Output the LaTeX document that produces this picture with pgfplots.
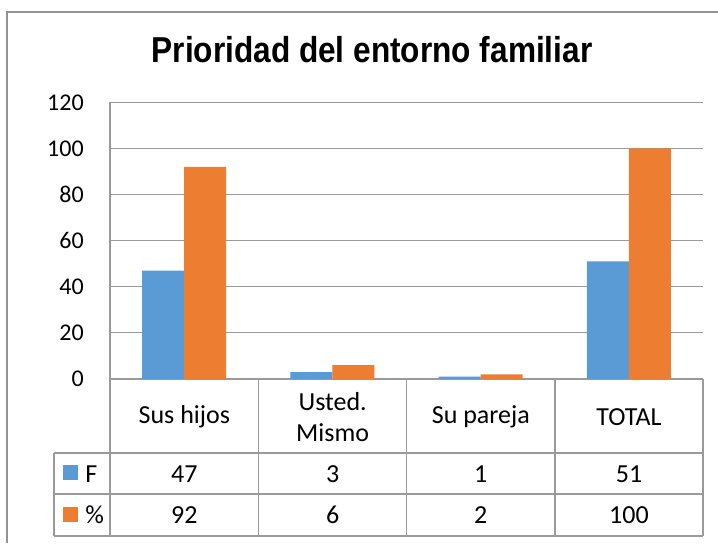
\documentclass[border=0pt]{standalone}
\usepackage{fontspec}
\setmainfont{Carlito}
\newfontfamily\titlefont{Liberation Sans}
\usepackage{pgfplots}
\pgfplotsset{compat=1.18}
\definecolor{cblue}{HTML}{5B9BD5}
\definecolor{corange}{HTML}{ED7D31}
\definecolor{gridc}{HTML}{9A9A9A}
\begin{document}
\begin{tikzpicture}
\path[use as bounding box] (-82.5pt,284.25pt) rectangle (456pt,-123pt);
\begin{axis}[
  at={(0,0)}, anchor=south west,
  scale only axis, width=444.75pt, height=207.5pt,
  xmin=-0.5, xmax=3.5, ymin=0, ymax=120,
  ytick={0,20,...,120}, xtick=\empty,
  ymajorgrids, grid style={gridc, line width=0.9pt},
  axis x line*=bottom, axis y line*=left,
  axis line style={gridc, line width=0.9pt},
  major tick length=0pt,
  ybar=0pt, bar width=31.5pt,
  tick label style={font=\fontsize{18}{21}\selectfont},
  /pgf/number format/assume math mode=true,
  yticklabel style={inner sep=0pt, xshift=-19.5pt},
  clip=false,
]
\addplot[fill=cblue, draw=none] coordinates {(0,47) (1,3) (2,1) (3,51)};
\addplot[fill=corange, draw=none] coordinates {(0,92) (1,6) (2,2) (3,100)};
\end{axis}
\begin{scope}[x=0.75pt,y=-0.75pt,shift={(-110,-379)}]
  \draw[gray!85, line width=0.9pt] (7,543) -- (7,12) -- (718,12);
  \node[font=\titlefont\fontsize{23.7}{28}\selectfont\bfseries] at (372,50) {\scalebox{1}[1.14]{Prioridad del entorno familiar}};
  \draw[gridc, line width=0.9pt] (54,453) -- (703,453) (54,494) -- (703,494) (54,536) -- (703,536) (54,453) -- (54,536);
  \foreach \x in {110,258.7,406.6,555,703} {\draw[gridc, line width=0.9pt] (\x,379) -- (\x,536);}
  \begin{scope}[every node/.style={font=\fontsize{19.5}{23}\selectfont, inner sep=0pt}]
    \node at (184.35,417) {Sus hijos};
    \node[align=center] at (332.65,417) {Usted.\\Mismo};
    \node at (480.8,417) {Su pareja};
    \node at (629,417) {TOTAL};
    \fill[cblue] (63,465) rectangle (78,480);
    \fill[corange] (63,507) rectangle (78,522);
    \node[anchor=west] at (85,474) {F};
    \node[anchor=west] at (85,515) {\%};
    \node at (184.35,474) {47};
    \node at (332.65,474) {3};
    \node at (480.8,474) {1};
    \node at (629,474) {51};
    \node at (184.35,515) {92};
    \node at (332.65,515) {6};
    \node at (480.8,515) {2};
    \node at (629,515) {100};
  \end{scope}
\end{scope}
\end{tikzpicture}
\end{document}
